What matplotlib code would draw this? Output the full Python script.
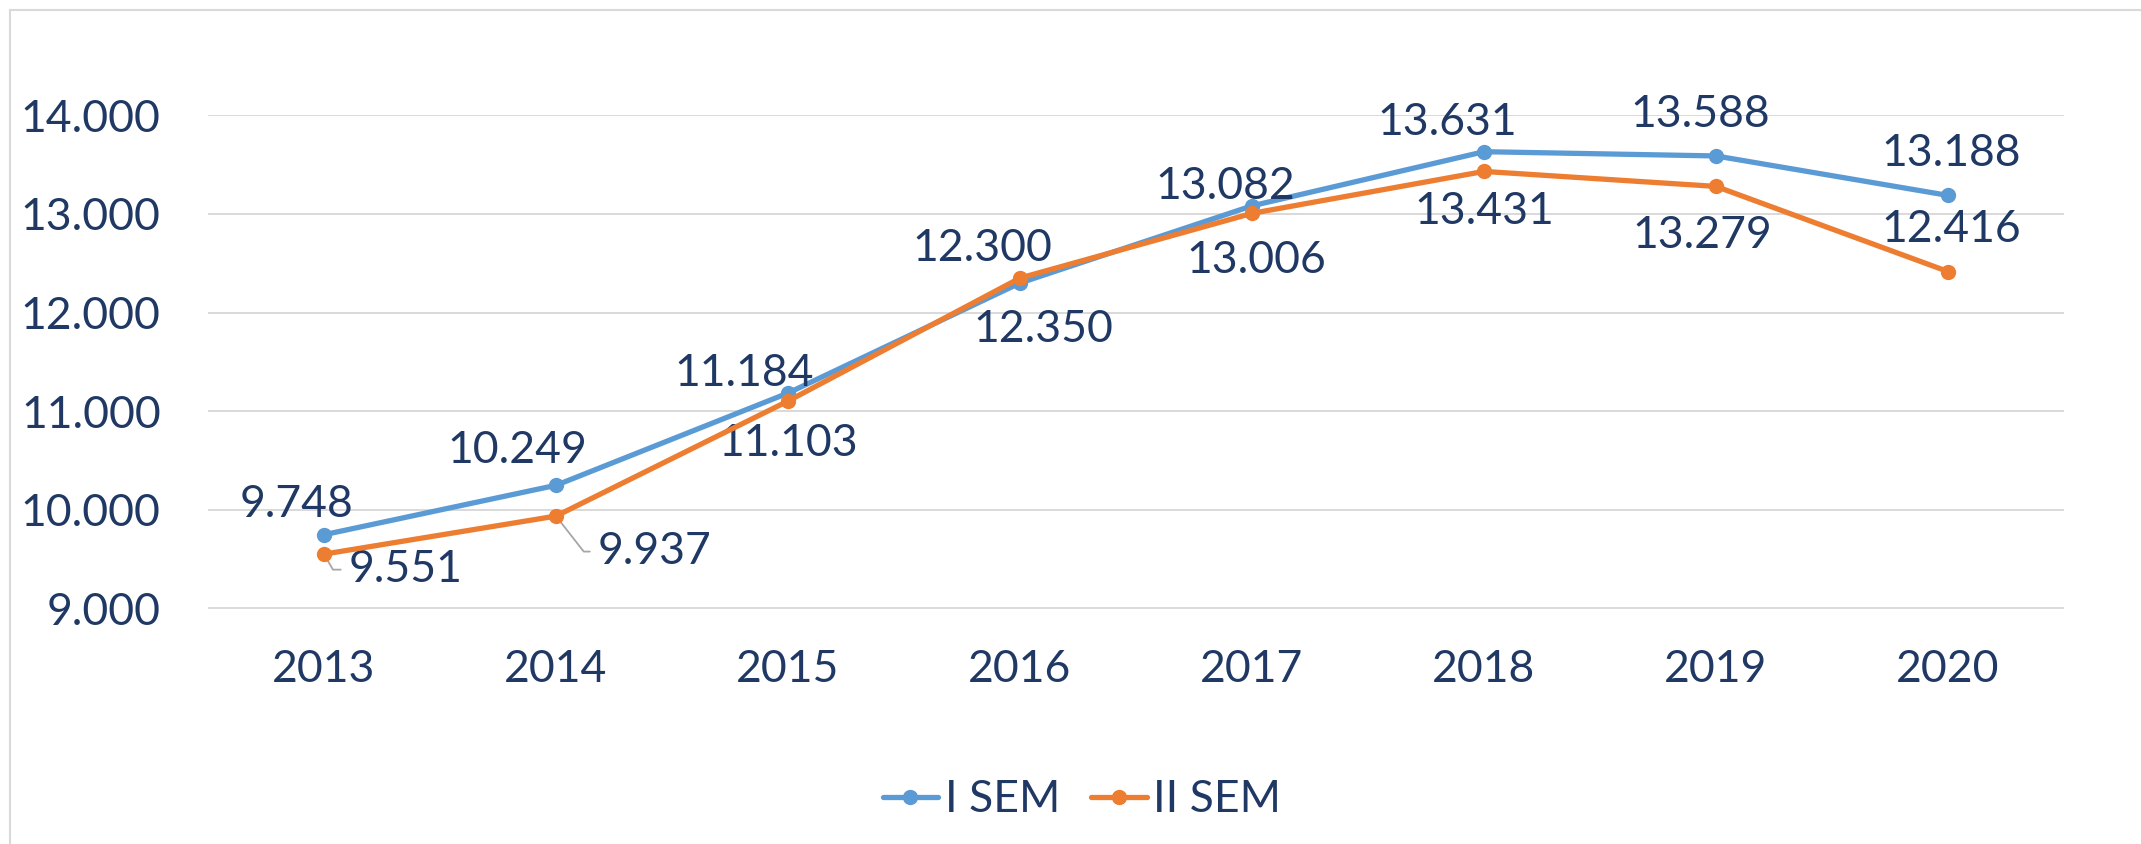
import matplotlib
matplotlib.use("Agg")
import matplotlib.pyplot as plt
from matplotlib.lines import Line2D
from matplotlib.ticker import FuncFormatter

# ---- data ----
years = ["2013", "2014", "2015", "2016", "2017", "2018", "2019", "2020"]
sem1 = [9748, 10249, 11184, 12300, 13082, 13631, 13588, 13188]
sem2 = [9551, 9937, 11103, 12350, 13006, 13431, 13279, 12416]
series_names = ["I SEM", "II SEM"]

# ---- style ----
TEXT = "#1F3864"
BLUE = "#5B9BD5"
ORANGE = "#ED7D31"
GRID = "#D9D9D9"
FS = 32
plt.rcParams["font.family"] = ["Lato", "DejaVu Sans"]

# label offsets in pixels (dx, dy-down) of label centre from point
off1 = [(-28, -34), (-39, -38), (-44, -23), (-38, -38), (-27, -23), (-37, -33), (-16, -45), (3, -45)]
off2 = [(82, 12), (99, 32), (0, 39), (23, 48), (4, 44), (0, 37), (-14, 46), (3, -46)]
leader2 = [-60, -52, None, None, None, None, None, None]

W, H = 2141, 844
fig = plt.figure(figsize=(W / 100, H / 100), dpi=100)
ax = fig.add_axes([208 / W, 1 - 608.5 / H, (2064 - 208) / W, (608.5 - 115.3) / H])

def fmt(v):
    return f"{v:,.0f}".replace(",", ".")

x = list(range(len(years)))
ax.plot(x, sem1, color=BLUE, lw=3.8, marker="o", ms=10, label=series_names[0], zorder=4,
        solid_capstyle="round")
ax.plot(x, sem2, color=ORANGE, lw=3.8, marker="o", ms=10, label=series_names[1], zorder=5,
        solid_capstyle="round")

CAPH = 16  # half cap height in px
for i, v in enumerate(sem1):
    dx, dy = off1[i]
    ax.annotate(fmt(v), (i, v), xytext=(dx, -dy - CAPH), textcoords="offset pixels",
                ha="center", va="baseline", fontsize=FS, color=TEXT, zorder=6)
for i, v in enumerate(sem2):
    dx, dy = off2[i]
    kw = {}
    if leader2[i] is not None:
        kw["arrowprops"] = dict(arrowstyle="-", color="#A6A6A6", lw=1.3, shrinkA=4, shrinkB=0,
                                relpos=(0, 0.5),
                                connectionstyle=f"angle,angleA=0,angleB={leader2[i]},rad=0")
    ax.annotate(fmt(v), (i, v), xytext=(dx, -dy - CAPH), textcoords="offset pixels",
                ha="center", va="baseline", fontsize=FS, color=TEXT, zorder=3, **kw)

ax.set_xlim(-0.5, len(years) - 0.5)
ax.set_ylim(9000, 14000)
ax.set_yticks([9000, 10000, 11000, 12000, 13000, 14000])
ax.yaxis.set_major_formatter(FuncFormatter(lambda v, p: fmt(v)))
ax.set_xticks(x)
ax.set_xticklabels(years)
ax.tick_params(axis="both", length=0, labelsize=FS, labelcolor=TEXT)
ax.tick_params(axis="y", pad=34)
ax.tick_params(axis="x", pad=29)
for s in ax.spines.values():
    s.set_visible(False)
ax.grid(axis="y", color=GRID, lw=1.4, zorder=0)
ax.set_axisbelow(True)

# outer chart border (only left and top visible in the crop)
fig.add_artist(Line2D([10 / W, 10 / W], [0, 1 - 9.5 / H], transform=fig.transFigure, color=GRID, lw=1.5))
fig.add_artist(Line2D([10 / W, 1], [1 - 9.5 / H, 1 - 9.5 / H], transform=fig.transFigure, color=GRID, lw=1.5))

fig.legend(loc="center", bbox_to_anchor=(1082 / W, 1 - 800 / H), ncol=2, frameon=False,
           fontsize=FS, labelcolor=TEXT, handlelength=1.25, handletextpad=0.15, columnspacing=0.7)

fig.savefig("out.png", dpi=100)
